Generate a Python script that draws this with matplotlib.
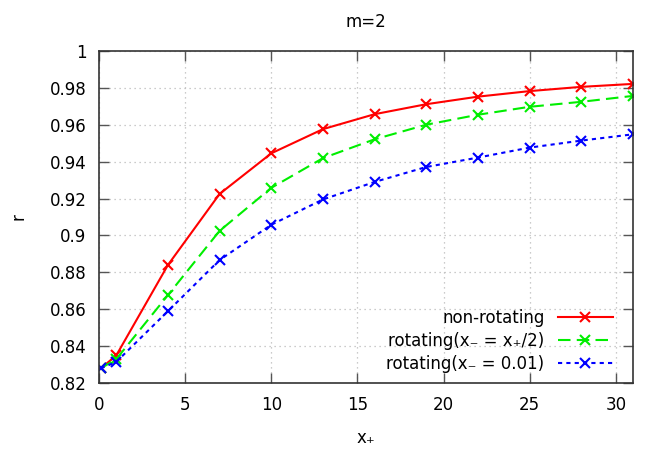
import matplotlib
matplotlib.use("Agg")
import matplotlib.pyplot as plt

# data
x_plus = [0.1, 1, 4, 7, 10, 13, 16, 19, 22, 25, 28, 31]
r_nonrot = [0.828, 0.835, 0.884, 0.9225, 0.9445, 0.9576, 0.9657, 0.9711, 0.9752, 0.9782, 0.9805, 0.9821]
r_rot_half = [0.828, 0.833, 0.8677, 0.9025, 0.9258, 0.9419, 0.9521, 0.9600, 0.9654, 0.9697, 0.9724, 0.9756]
r_rot_001 = [0.828, 0.8315, 0.859, 0.8867, 0.9058, 0.9195, 0.9290, 0.9371, 0.9422, 0.9476, 0.9514, 0.9548]

labels = ["non-rotating", "rotating(x\u208b = x\u208a/2)", "rotating(x\u208b = 0.01)"]
xticks = [0, 5, 10, 15, 20, 25, 30]
yticks = [0.82, 0.84, 0.86, 0.88, 0.9, 0.92, 0.94, 0.96, 0.98, 1]

plt.rcParams['font.family'] = ['DejaVu Sans']
plt.rcParams['font.size'] = 12

fig = plt.figure(figsize=(6.45, 4.54), dpi=100)
ax = fig.add_axes([0.1535, 0.156, 0.828, 0.732])

#three curves, gnuplot style
ax.plot(x_plus, r_nonrot, color='#ff0000', linestyle='-', linewidth=1.5,
        marker='x', markersize=6.5, markeredgewidth=1.5, label=labels[0])
ax.plot(x_plus, r_rot_half, color='#00ee00', linestyle=(0, (6, 3)), linewidth=1.5,
        marker='x', markersize=6.5, markeredgewidth=1.5, label=labels[1])
ax.plot(x_plus, r_rot_001, color='#0000ff', linestyle=(0, (2, 2)), linewidth=1.5,
        marker='x', markersize=6.5, markeredgewidth=1.5, label=labels[2])

ax.set_xlim(0, 31)
ax.set_ylim(0.82, 1.0)
ax.set_xticks(xticks)
ax.set_xticklabels([str(t) for t in xticks])
ax.set_yticks(yticks)
ax.set_yticklabels([('%g' % t) for t in yticks])
ax.tick_params(direction='in', length=7, width=1, top=True, right=True,
               color='#555555', pad=9)
ax.grid(True, color='#bbbbbb', linestyle=(0, (1, 3)), linewidth=0.9)
for s in ax.spines.values():
    s.set_color('#333333')
    s.set_linewidth(1.2)

ax.set_title("m=2", fontsize=12, pad=17)
ax.set_xlabel("x\u208a", labelpad=11)
ax.set_ylabel("r", labelpad=16)

ax.legend(loc='lower right', bbox_to_anchor=(0.99, -0.015), frameon=False,
          markerfirst=False, handlelength=3.3, handletextpad=0.8,
          labelspacing=0.3, fontsize=12)

plt.savefig("out.png", dpi=100)
